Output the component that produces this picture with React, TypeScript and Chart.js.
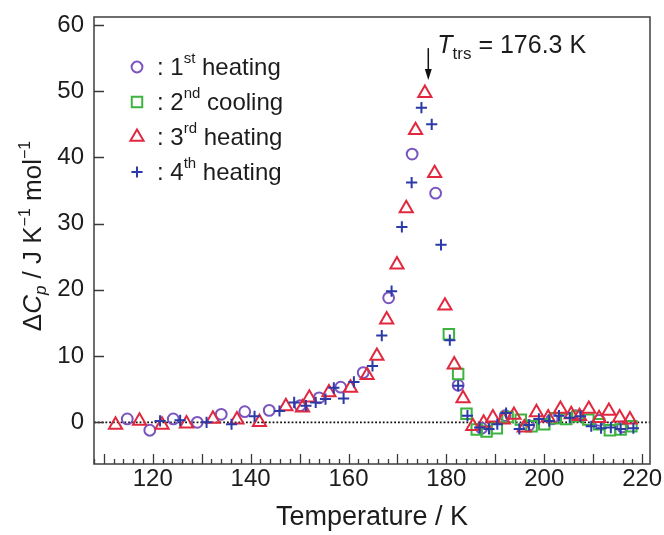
import React, { useEffect, useRef } from 'react';
import { Chart, registerables } from 'chart.js';

Chart.register(...registerables);

const FONT = '"Liberation Sans", Arial, Helvetica, sans-serif';
const TEXT = '#1c1c1c';

// ---- data ----
const heat1X = [114.8, 119.4, 124.2, 129.1, 134.0, 138.8, 143.8, 150.1, 154.0, 158.4, 163.0, 168.2, 173.0, 177.8, 182.4, 187.2, 192.0, 196.8, 201.6, 206.4, 211.2, 216.0];
const heat1Y = [0.5, -1.2, 0.5, 0.0, 1.2, 1.6, 1.8, 2.5, 3.7, 5.3, 7.5, 18.8, 40.5, 34.6, 5.6, -0.9, 1.0, -0.5, 0.5, 1.0, 0.3, -0.7];

const cool2X = [180.5, 182.4, 184.1, 186.2, 188.2, 190.3, 192.5, 195.2, 197.4, 200.0, 202.2, 204.5, 206.8, 209.0, 211.2, 213.4, 215.6, 217.8];
const cool2Y = [13.3, 7.3, 1.3, -1.1, -1.4, -0.9, 0.8, 0.4, -0.6, -0.3, 0.6, 0.5, 0.9, 0.4, -0.3, -1.2, -1.1, -0.6];

const heat3X = [112.4, 117.3, 121.9, 126.9, 132.3, 137.2, 141.8, 147.2, 150.6, 152.0, 156.0, 160.4, 163.8, 165.8, 167.8, 169.9, 171.8, 173.7, 175.6, 177.6, 179.7, 181.6, 183.4, 185.4, 187.6, 189.5, 191.6, 193.8, 195.9, 198.4, 200.8, 203.3, 205.5, 207.2, 209.1, 211.2, 213.2, 215.4, 217.5];
const heat3Y = [-0.4, 0.2, -0.4, -0.2, 0.5, 0.4, 0.0, 2.4, 2.2, 3.7, 4.5, 5.2, 7.1, 10.0, 15.5, 23.8, 32.3, 44.1, 49.7, 37.6, 17.6, 8.7, 3.6, -0.6, -0.1, 0.7, 0.4, 1.1, -0.8, 1.5, 0.7, 2.0, 1.2, 0.9, 2.0, 0.6, 1.7, 0.7, 0.4];

const heat4X = [121.5, 125.6, 131.0, 136.1, 140.8, 145.9, 148.9, 151.3, 153.3, 155.3, 157.0, 159.0, 161.1, 164.9, 166.8, 168.8, 170.9, 172.9, 174.9, 177.0, 178.9, 180.7, 182.4, 184.3, 186.8, 188.7, 190.4, 192.2, 194.9, 196.9, 198.9, 201.0, 203.0, 205.2, 207.4, 209.6, 211.6, 213.6, 215.6, 218.2];
const heat4Y = [0.2, 0.3, 0.0, -0.3, 0.9, 1.7, 3.0, 2.5, 3.0, 3.5, 5.2, 3.6, 6.1, 8.5, 13.1, 19.8, 29.5, 36.2, 47.5, 45.0, 26.8, 12.4, 5.5, 1.0, -0.8, -1.0, -0.3, 1.4, -1.0, -0.4, 0.5, 0.2, 1.0, 0.7, 0.9, -0.6, -0.9, -0.8, -1.0, -0.9];

const xTickValues = [120, 140, 160, 180, 200, 220];
const yTickValues = [0, 10, 20, 30, 40, 50, 60];
const xMin = 108;
const xMax = 221.6;
const yMin = -6.3;
const yMax = 61.2;
const transitionT = 176.3;
const arrowTop = 56.5;
const arrowBottom = 51.7;

type Series = { ord: string; sup: string; rest: string; xs: number[]; ys: number[]; color: string; style: string; r: number; order: number };

const series: Series[] = [
  { ord: '1', sup: 'st', rest: ' heating', xs: heat1X, ys: heat1Y, color: '#7b55bf', style: 'circle', r: 5.4, order: 4 },
  { ord: '2', sup: 'nd', rest: ' cooling', xs: cool2X, ys: cool2Y, color: '#3db43f', style: 'rect', r: 7.4, order: 3 },
  { ord: '3', sup: 'rd', rest: ' heating', xs: heat3X, ys: heat3Y, color: '#e2283f', style: 'triangle', r: 7.6, order: 2 },
  { ord: '4', sup: 'th', rest: ' heating', xs: heat4X, ys: heat4Y, color: '#2b3aa6', style: 'cross', r: 5.6, order: 1 },
];

type Seg = { t: string; font: string; dy?: number };

function richWidth(ctx: CanvasRenderingContext2D, segs: Seg[]) {
  let w = 0;
  for (const s of segs) {
    ctx.font = s.font;
    w += ctx.measureText(s.t).width;
  }
  return w;
}

function drawRich(ctx: CanvasRenderingContext2D, segs: Seg[], x: number, y: number) {
  let cx = x;
  for (const s of segs) {
    ctx.font = s.font;
    ctx.fillText(s.t, cx, y + (s.dy || 0));
    cx += ctx.measureText(s.t).width;
  }
}

function drawMarker(ctx: CanvasRenderingContext2D, style: string, x: number, y: number, r: number, color: string) {
  ctx.save();
  ctx.strokeStyle = color;
  ctx.lineWidth = 2;
  ctx.beginPath();
  if (style === 'circle') {
    ctx.arc(x, y, r, 0, Math.PI * 2);
  } else if (style === 'rect') {
    const s = r * Math.SQRT1_2;
    ctx.rect(x - s, y - s, 2 * s, 2 * s);
  } else if (style === 'triangle') {
    ctx.moveTo(x, y - r);
    ctx.lineTo(x + r * Math.sin((2 * Math.PI) / 3), y + r * 0.5);
    ctx.lineTo(x - r * Math.sin((2 * Math.PI) / 3), y + r * 0.5);
    ctx.closePath();
  } else {
    ctx.moveTo(x, y - r);
    ctx.lineTo(x, y + r);
    ctx.moveTo(x - r, y);
    ctx.lineTo(x + r, y);
  }
  ctx.stroke();
  ctx.restore();
}

const decor = {
  id: 'decor',
  beforeDatasetsDraw(chart: any) {
    const { ctx, chartArea: a, scales } = chart;
    const y0 = scales.y.getPixelForValue(0);
    ctx.save();
    ctx.strokeStyle = '#111';
    ctx.lineWidth = 1.8;
    ctx.setLineDash([1.8, 2.0]);
    ctx.beginPath();
    ctx.moveTo(a.left, y0);
    ctx.lineTo(a.right, y0);
    ctx.stroke();
    ctx.restore();
  },
  afterDraw(chart: any) {
    const { ctx, chartArea: a, scales } = chart;
    const xs = scales.x;
    const ys = scales.y;
    ctx.save();
    // frame
    ctx.strokeStyle = '#4a4a4a';
    ctx.lineWidth = 1.6;
    ctx.strokeRect(a.left, a.top, a.right - a.left, a.bottom - a.top);
    // x ticks (inward)
    ctx.strokeStyle = '#3a3a3a';
    ctx.lineWidth = 1.3;
    ctx.beginPath();
    for (let v = Math.ceil(xMin / 2) * 2; v <= xMax; v += 2) {
      const px = Math.round(xs.getPixelForValue(v)) + 0.5;
      const len = v % 10 === 0 ? 10 : 5;
      ctx.moveTo(px, a.bottom);
      ctx.lineTo(px, a.bottom - len);
    }
    // y ticks (inward)
    for (const v of yTickValues) {
      const py = Math.round(ys.getPixelForValue(v)) + 0.5;
      ctx.moveTo(a.left, py);
      ctx.lineTo(a.left + 10, py);
    }
    ctx.stroke();

    ctx.fillStyle = TEXT;
    ctx.textBaseline = 'alphabetic';
    ctx.textAlign = 'left';

    // legend
    series.forEach((s, i) => {
      const base = 75 + i * 35;
      drawMarker(ctx, s.style, 137, base - 8, s.r, s.color);
      ctx.fillStyle = TEXT;
      drawRich(ctx, [
        { t: ': ' + s.ord, font: `24px ${FONT}` },
        { t: s.sup, font: `15px ${FONT}`, dy: -12 },
        { t: s.rest, font: `24px ${FONT}` },
      ], 157, base);
    });

    // transition arrow + label
    const ax = xs.getPixelForValue(transitionT);
    const ayTop = ys.getPixelForValue(arrowTop);
    const ayBot = ys.getPixelForValue(arrowBottom);
    ctx.strokeStyle = '#111';
    ctx.fillStyle = '#111';
    ctx.lineWidth = 1.5;
    ctx.beginPath();
    ctx.moveTo(ax, ayTop);
    ctx.lineTo(ax, ayBot - 8);
    ctx.stroke();
    ctx.beginPath();
    ctx.moveTo(ax, ayBot);
    ctx.lineTo(ax - 3.5, ayBot - 11);
    ctx.lineTo(ax + 3.5, ayBot - 11);
    ctx.closePath();
    ctx.fill();
    ctx.fillStyle = TEXT;
    drawRich(ctx, [
      { t: 'T', font: `italic 25px ${FONT}` },
      { t: 'trs', font: `17px ${FONT}`, dy: 6 },
      { t: ' = 176.3 K', font: `25px ${FONT}` },
    ], ax + 9, 53);

    // y title
    const ySegs: Seg[] = [
      { t: 'Δ', font: `26px ${FONT}` },
      { t: 'C', font: `italic 26px ${FONT}` },
      { t: 'p', font: `italic 17px ${FONT}`, dy: 5 },
      { t: ' / J K', font: `26px ${FONT}` },
      { t: '−1', font: `16px ${FONT}`, dy: -11 },
      { t: ' mol', font: `26px ${FONT}` },
      { t: '−1', font: `16px ${FONT}`, dy: -11 },
    ];
    const w = richWidth(ctx, ySegs);
    ctx.translate(41, 236);
    ctx.rotate(-Math.PI / 2);
    drawRich(ctx, ySegs, -w / 2, 0);
    ctx.restore();
  },
};

export default function App() {
  const ref = useRef<HTMLCanvasElement | null>(null);
  useEffect(() => {
    if (!ref.current) return;
    const chart = new Chart(ref.current, {
      type: 'scatter',
      data: {
        datasets: series.map((s) => ({
          label: s.ord + s.sup + s.rest,
          data: s.xs.map((x, i) => ({ x, y: s.ys[i] })),
          pointStyle: s.style as any,
          pointRadius: s.r,
          pointBorderWidth: 2,
          borderWidth: 2,
          borderColor: s.color,
          backgroundColor: 'rgba(0,0,0,0)',
          order: s.order,
        })),
      },
      options: {
        responsive: false,
        animation: false,
        devicePixelRatio: 1,
        events: [],
        layout: { padding: { top: 17, right: 14, left: 0, bottom: 0 } },
        plugins: { legend: { display: false }, tooltip: { enabled: false } },
        scales: {
          x: {
            type: 'linear',
            min: xMin,
            max: xMax,
            grid: { display: false, drawTicks: false },
            border: { display: false },
            ticks: { font: { family: FONT, size: 24 }, color: TEXT, padding: 1, maxRotation: 0, autoSkip: false },
            afterBuildTicks: (s: any) => {
              s.ticks = xTickValues.map((v) => ({ value: v }));
            },
            afterFit: (s: any) => {
              s.height = 71;
              s.paddingLeft = 0;
              s.paddingRight = 0;
            },
            title: {
              display: true,
              text: 'Temperature / K',
              font: { family: FONT, size: 27 },
              color: TEXT,
              padding: { top: 0, bottom: 1 },
            },
          },
          y: {
            type: 'linear',
            min: yMin,
            max: yMax,
            grid: { display: false, drawTicks: false },
            border: { display: false },
            ticks: { font: { family: FONT, size: 24 }, color: TEXT, padding: 10 },
            afterBuildTicks: (s: any) => {
              s.ticks = yTickValues.map((v) => ({ value: v }));
            },
            afterFit: (s: any) => {
              s.width = 94;
              s.paddingTop = 0;
              s.paddingBottom = 0;
            },
          },
        },
      },
      plugins: [decor],
    });
    return () => chart.destroy();
  }, []);
  return (
    <div style={{ position: 'fixed', left: 0, top: 0, width: 664, height: 535, background: '#fff' }}>
      <canvas ref={ref} width={664} height={535} style={{ display: 'block' }} />
    </div>
  );
}
